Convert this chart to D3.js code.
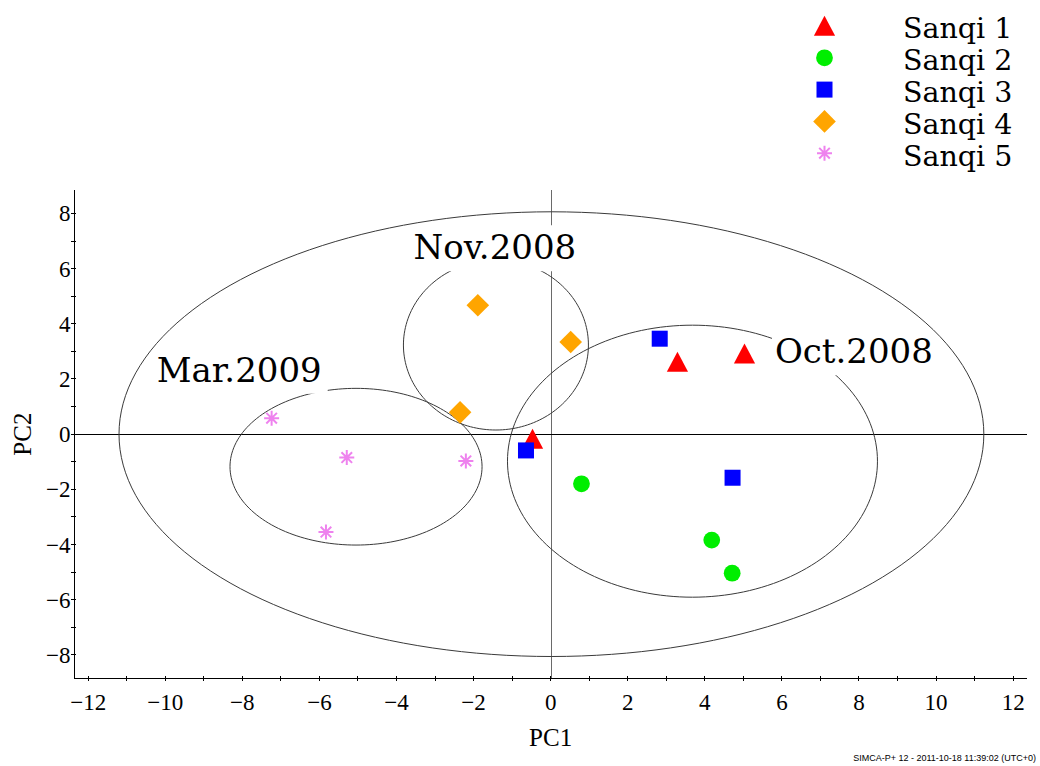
<!DOCTYPE html>
<html>
<head>
<meta charset="utf-8">
<script src="https://cdn.jsdelivr.net/npm/d3@7"></script>
<style>
  html, body { margin: 0; padding: 0; background: #fff; }
  svg { display: block; }
</style>
</head>
<body>
<svg id="chart" width="1040" height="766"></svg>
<script>
// PCA score plot: PC1 vs PC2 for five Sanqi samples, grouped by harvest date.

const seriesNames = ["Sanqi 1", "Sanqi 2", "Sanqi 3", "Sanqi 4", "Sanqi 5"];
const seriesColors = ["#ff0000", "#00ee00", "#0000ff", "#ffa500", "#ee82ee"];
const seriesShapes = ["triangle", "circle", "square", "diamond", "asterisk"];

// score pairs [PC1, PC2]
const sanqi1 = [[3.29, 2.61], [5.03, 2.91], [-0.47, -0.18]];
const sanqi2 = [[0.80, -1.80], [4.18, -3.84], [4.71, -5.04]];
const sanqi3 = [[2.83, 3.46], [4.72, -1.58], [-0.64, -0.59]];
const sanqi4 = [[-1.89, 4.67], [0.52, 3.34], [-2.35, 0.79]];
const sanqi5 = [[-7.24, 0.58], [-5.29, -0.85], [-2.20, -0.97], [-5.83, -3.55]];

// Hotelling T2 ellipse (whole model) and group ellipses: [cx, cy, rx, ry]
const modelEllipse = [0.02, 0.0, 11.22, 8.06];
const groupNames = ["Oct.2008", "Nov.2008", "Mar.2009"];
const groupEllipses = [
  [3.68, -0.98, 4.80, 4.93],
  [-1.42, 3.23, 2.40, 3.08],
  [-5.05, -1.18, 3.27, 2.84]
];

const xTickLabels = [-12, -10, -8, -6, -4, -2, 0, 2, 4, 6, 8, 10, 12];
const yTickLabels = [-8, -6, -4, -2, 0, 2, 4, 6, 8];
const xMinorTicks = d3.range(-12, 13, 1);
const yMinorTicks = d3.range(-8, 9, 1);

// ---- layout ----
const svg = d3.select("#chart");
const plotLeft = 74.3, plotRight = 1027, plotTop = 190, plotBottom = 678.3;
const x = d3.scaleLinear().domain([-12.36, 12.36]).range([plotLeft, plotRight]);
const y = d3.scaleLinear().domain([-8.85, 8.85]).range([plotBottom, plotTop]);

const tickFont = "'Liberation Serif', serif";
const labelFont = "'DejaVu Serif', serif";

// group label anchors in score units (left edge, baseline)
const groupLabelPos = [[5.82, 2.57], [-3.56, 6.34], [-10.22, 1.90]];

// ---- zero lines ----
svg.append("line")
  .attr("x1", Math.round(x(0)) + 0.5).attr("x2", Math.round(x(0)) + 0.5)
  .attr("y1", plotTop).attr("y2", plotBottom)
  .attr("stroke", "#6a6a6a").attr("stroke-width", 1);
svg.append("line")
  .attr("x1", plotLeft).attr("x2", plotRight)
  .attr("y1", Math.round(y(0)) + 0.5).attr("y2", Math.round(y(0)) + 0.5)
  .attr("stroke", "#000").attr("stroke-width", 1);

// ---- ellipses ----
function ellipsePath(e) {
  const [cx, cy, rx, ry] = e;
  const pts = d3.range(0, 361, 2).map(a => {
    const t = a * Math.PI / 180;
    return [x(cx + rx * Math.cos(t)), y(cy + ry * Math.sin(t))];
  });
  return d3.line()(pts) + "Z";
}
const groupEllipseG = svg.append("g").attr("fill", "none").attr("stroke", "#3a3a3a").attr("stroke-width", 1);
groupEllipses.forEach(e => groupEllipseG.append("path").attr("d", ellipsePath(e)));

// ---- group labels: white backing breaks the group outline under the text ----
const labelBackG = svg.append("g");
const modelEllipseG = svg.append("g").attr("fill", "none").attr("stroke", "#3a3a3a").attr("stroke-width", 1);
modelEllipseG.append("path").attr("d", ellipsePath(modelEllipse));
const labelTextG = svg.append("g");
groupNames.forEach((name, i) => {
  const rect = labelBackG.append("rect").attr("fill", "#fff");
  const t = labelTextG.append("text")
    .attr("x", x(groupLabelPos[i][0]))
    .attr("y", y(groupLabelPos[i][1]))
    .attr("font-family", labelFont)
    .attr("font-size", 34)
    .attr("fill", "#000")
    .text(name);
  const b = t.node().getBBox();
  rect.attr("x", b.x - 3).attr("y", b.y - 2)
    .attr("width", b.width + 9).attr("height", b.height + 6);
});

// ---- axes ----
const axisG = svg.append("g").attr("stroke", "#000").attr("stroke-width", 1).attr("shape-rendering", "crispEdges");
axisG.append("line").attr("x1", plotLeft).attr("x2", plotLeft).attr("y1", plotTop).attr("y2", plotBottom);
axisG.append("line").attr("x1", plotLeft).attr("x2", plotRight).attr("y1", plotBottom).attr("y2", plotBottom);
axisG.selectAll(".xt").data(xMinorTicks).enter().append("line")
  .attr("x1", d => x(d)).attr("x2", d => x(d))
  .attr("y1", plotBottom - 2).attr("y2", plotBottom + 3);
axisG.selectAll(".yt").data(yMinorTicks).enter().append("line")
  .attr("y1", d => y(d)).attr("y2", d => y(d))
  .attr("x1", plotLeft - 3).attr("x2", plotLeft + 2);

svg.append("g").selectAll("text").data(xTickLabels).enter().append("text")
  .attr("x", d => x(d)).attr("y", 710)
  .attr("text-anchor", "middle")
  .attr("font-family", tickFont).attr("font-size", 23)
  .text(d => d < 0 ? "\u2212" + Math.abs(d) : d);
svg.append("g").selectAll("text").data(yTickLabels).enter().append("text")
  .attr("x", 70.5).attr("y", d => y(d) + 8)
  .attr("text-anchor", "end")
  .attr("font-family", tickFont).attr("font-size", 23)
  .text(d => d < 0 ? "\u2212" + Math.abs(d) : d);

svg.append("text").attr("x", x(0)).attr("y", 746)
  .attr("text-anchor", "middle").attr("font-family", tickFont).attr("font-size", 25)
  .text("PC1");
svg.append("text").attr("transform", `translate(31,${y(0)}) rotate(-90)`)
  .attr("text-anchor", "middle").attr("font-family", tickFont).attr("font-size", 25)
  .text("PC2");

// ---- markers ----
function drawMarker(sel, shape, color) {
  if (shape === "triangle") {
    sel.append("path").attr("d", "M0,-10.3L10.6,9.7L-10.6,9.7Z").attr("fill", color);
  } else if (shape === "circle") {
    sel.append("circle").attr("r", 8.4).attr("fill", color);
  } else if (shape === "square") {
    sel.append("rect").attr("x", -8).attr("y", -8).attr("width", 16).attr("height", 16).attr("fill", color);
  } else if (shape === "diamond") {
    sel.append("path").attr("d", "M0,-11.3L11.3,0L0,11.3L-11.3,0Z").attr("fill", color);
  } else if (shape === "asterisk") {
    const r = 7.5, d = r * Math.SQRT1_2;
    sel.append("path")
      .attr("d", `M0,${-r}V${r}M${-r},0H${r}M${-d},${-d}L${d},${d}M${-d},${d}L${d},${-d}`)
      .attr("stroke", color).attr("stroke-width", 2).attr("fill", "none");
  }
}

const allSeries = [sanqi1, sanqi2, sanqi3, sanqi4, sanqi5];
const pointsG = svg.append("g");
allSeries.forEach((pts, i) => {
  pts.forEach(p => {
    const g = pointsG.append("g").attr("transform", `translate(${x(p[0])},${y(p[1])})`);
    drawMarker(g, seriesShapes[i], seriesColors[i]);
  });
});

// ---- legend ----
const legendG = svg.append("g");
seriesNames.forEach((name, i) => {
  const cy = 26 + 31.8 * i;
  const g = legendG.append("g").attr("transform", `translate(824.5,${cy})`);
  drawMarker(g, seriesShapes[i], seriesColors[i]);
  legendG.append("text")
    .attr("x", 903).attr("y", cy + 12.3)
    .attr("font-family", labelFont).attr("font-size", 28.5)
    .attr("fill", "#000")
    .text(name);
});

// ---- footer stamp ----
svg.append("text").attr("x", 1036).attr("y", 761)
  .attr("text-anchor", "end")
  .attr("font-family", "'Liberation Sans', Arial, sans-serif").attr("font-size", 9)
  .text("SIMCA-P+ 12 - 2011-10-18 11:39:02 (UTC+0)");
</script>
</body>
</html>
